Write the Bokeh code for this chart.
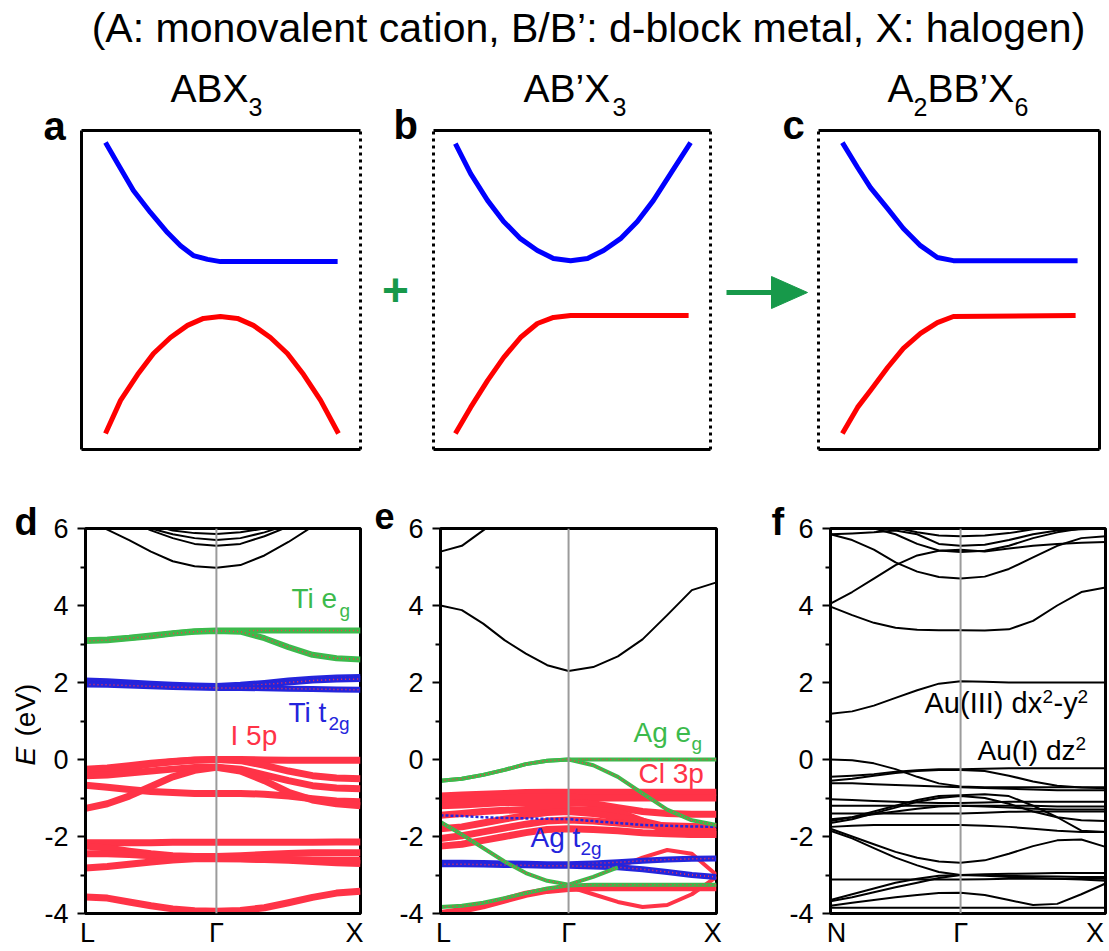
import numpy as np
from bokeh.plotting import figure
from bokeh.models import Range1d, Span, FixedTicker
from bokeh.layouts import column, row
from bokeh.core.properties import value
from bokeh.embed import file_html
from bokeh.resources import INLINE

nan = float("nan")
FONT = "Liberation Sans"

# ------------------------------------------------------------------ data
HEADER = "(A: monovalent cation, B/B\u2019: d-block metal, X: halogen)"

# schematic panels (arbitrary units, box = 0..100)
A_BLUE_X = [8.6, 12.9, 18.6, 24.7, 30.8, 35.5, 40.1, 45.2, 49.8, 91.8]
A_BLUE_Y = [96.2, 89.7, 81.2, 74.3, 68.0, 63.9, 60.8, 59.6, 58.9, 58.9]
A_RED_X = [8.6, 14.0, 20.1, 25.8, 31.9, 38.0, 43.7, 49.8, 55.9, 61.6, 67.7, 73.8, 79.6, 85.7, 92.1]
A_RED_Y = [5.0, 15.4, 23.5, 30.1, 35.1, 38.9, 41.1, 41.7, 41.1, 38.9, 35.1, 30.1, 23.5, 15.4, 5.0]

B_BLUE_X = [7.9, 13.4, 19.5, 25.3, 31.4, 37.5, 43.3, 49.5, 55.6, 61.4, 67.5, 73.6, 79.4, 85.6, 92.8]
B_BLUE_Y = [95.9, 86.5, 78.1, 71.5, 66.1, 62.4, 59.9, 59.2, 59.9, 62.4, 66.1, 71.5, 78.1, 86.5, 96.2]
B_RED_X = [7.9, 13.4, 19.5, 25.3, 31.4, 37.5, 43.3, 49.5, 92.1]
B_RED_Y = [5.0, 13.2, 21.6, 28.8, 35.1, 39.5, 41.4, 42.0, 42.0]

C_BLUE_X = [8.5, 13.9, 18.5, 24.6, 30.2, 36.3, 42.3, 48.0, 92.2]
C_BLUE_Y = [96.2, 88.4, 82.1, 75.5, 69.3, 63.9, 60.2, 59.2, 59.2]
C_RED_X = [8.5, 13.9, 18.5, 24.6, 30.2, 36.3, 42.3, 48.0, 91.5]
C_RED_Y = [5.0, 13.2, 18.5, 25.7, 31.7, 36.4, 39.8, 41.7, 42.0]

# band structures: 13 samples per band (7 on L-G, 7 on G-X, shared G)
Y_TICKS = [-4, -2, 0, 2, 4, 6]
Y_TICK_LABELS = ["-4", "-2", "0", "2", "4", "6"]
Y_MINOR = [-3, -1, 1, 3, 5]
G_D, G_E, G_F = 0.476, 0.464, 0.473
K_LABELS_D = ["L", "\u0393", "X"]
K_LABELS_E = ["L", "\u0393", "X"]
K_LABELS_F = ["N", "\u0393", "X"]

D_BLACK = [
    [6.3, 5.97, 5.7, 5.4, 5.15, 5.02, 4.98, 5.05, 5.3, 5.65, 6.05, 6.3, 6.5],
    [6.6, 6.4, 6.2, 5.95, 5.75, 5.6, 5.55, 5.6, 5.8, 6.05, 6.3, 6.5, 6.6],
    [6.7, 6.5, 6.25, 6.0, 5.85, 5.75, 5.7, 5.75, 5.9, 6.1, 6.3, 6.5, 6.6],
    [6.8, 6.6, 6.35, 6.1, 5.95, 5.88, 5.86, 5.9, 6.0, 6.2, 6.4, 6.6, 6.7],
]
D_GREEN = [
    [3.1, 3.12, 3.16, 3.22, 3.28, 3.33, 3.35, 3.35, 3.35, 3.35, 3.35, 3.35, 3.35],
    [3.08, 3.1, 3.15, 3.2, 3.27, 3.32, 3.34, 3.32, 3.15, 2.92, 2.72, 2.63, 2.6],
]
D_BLUE = [
    [2.05, 2.03, 2.0, 1.97, 1.94, 1.92, 1.91, 1.94, 1.99, 2.05, 2.1, 2.13, 2.14],
    [1.99, 1.98, 1.96, 1.93, 1.91, 1.89, 1.88, 1.9, 1.95, 2.0, 2.05, 2.08, 2.09],
    [1.95, 1.94, 1.92, 1.9, 1.88, 1.87, 1.86, 1.86, 1.85, 1.84, 1.83, 1.82, 1.81],
]
D_RED = [
    [-0.25, -0.22, -0.16, -0.1, -0.05, -0.01, 0.0, 0.0, -0.01, -0.02, -0.02, -0.02, -0.02],
    [-0.32, -0.28, -0.2, -0.12, -0.06, -0.02, 0.0, -0.03, -0.15, -0.3, -0.42, -0.48, -0.5],
    [-0.42, -0.4, -0.35, -0.3, -0.25, -0.21, -0.2, -0.25, -0.4, -0.55, -0.68, -0.74, -0.76],
    [-0.67, -0.72, -0.78, -0.83, -0.86, -0.88, -0.88, -0.88, -0.9, -0.95, -1.02, -1.08, -1.1],
    [-1.27, -1.15, -0.95, -0.7, -0.45, -0.28, -0.2, -0.3, -0.55, -0.85, -1.05, -1.15, -1.2],
    [-2.16, -2.16, -2.16, -2.16, -2.15, -2.15, -2.15, -2.15, -2.15, -2.15, -2.15, -2.14, -2.14],
    [-2.25, -2.3, -2.38, -2.45, -2.5, -2.52, -2.52, -2.5, -2.47, -2.44, -2.42, -2.42, -2.42],
    [-2.45, -2.45, -2.47, -2.5, -2.53, -2.56, -2.57, -2.58, -2.6, -2.62, -2.65, -2.68, -2.7],
    [-2.82, -2.78, -2.72, -2.66, -2.61, -2.58, -2.57, -2.58, -2.6, -2.6, -2.61, -2.62, -2.62],
    [-3.57, -3.6, -3.7, -3.8, -3.88, -3.93, -3.94, -3.92, -3.85, -3.72, -3.58, -3.47, -3.42],
]

E_BLACK = [
    [5.4, 5.55, 5.95, 6.35, nan, nan, nan, nan, nan, nan, nan, nan, nan],
    [4.0, 3.88, 3.53, 3.1, 2.75, 2.45, 2.3, 2.4, 2.68, 3.12, 3.75, 4.4, 4.6],
]
E_GREEN = [
    [-0.55, -0.5, -0.4, -0.27, -0.12, -0.03, 0.0, 0.0, 0.0, 0.0, 0.0, 0.0, 0.0],
    [-0.55, -0.5, -0.4, -0.27, -0.12, -0.03, 0.0, -0.15, -0.45, -0.88, -1.3, -1.58, -1.7],
    [-1.62, -1.95, -2.3, -2.65, -2.95, -3.15, -3.25, -3.05, -2.8, nan, nan, nan, nan],
    [-3.83, -3.8, -3.72, -3.6, -3.47, -3.35, -3.27, -3.25, -3.25, -3.25, -3.25, -3.25, -3.25],
]
E_RED = [
    [-0.95, -0.92, -0.9, -0.88, -0.86, -0.85, -0.85, -0.85, -0.85, -0.85, -0.85, -0.85, -0.85],
    [-1.05, -1.05, -1.02, -1.0, -0.98, -0.98, -0.98, -1.0, -1.0, -1.0, -1.0, -1.0, -1.0],
    [-1.2, -1.18, -1.15, -1.12, -1.12, -1.12, -1.12, -1.15, -1.25, -1.35, -1.4, -1.42, -1.42],
    [-1.45, -1.4, -1.35, -1.32, -1.3, -1.3, -1.3, -1.32, -1.36, -1.6, -1.85, -1.95, -1.95],
    [-1.8, -1.75, -1.65, -1.55, -1.45, -1.38, -1.35, -1.4, -1.5, -1.6, -1.75, -1.85, -1.9],
    [-2.05, -1.98, -1.88, -1.78, -1.68, -1.6, -1.57, -1.6, -1.65, -1.7, -1.72, -1.74, -1.75],
    [-2.25, -2.2, -2.1, -2.0, -1.9, -1.82, -1.8, -1.82, -1.85, -1.9, -1.93, -1.95, -1.95],
    [-4.0, -3.92, -3.8, -3.65, -3.5, -3.4, -3.35, -3.33, -3.33, -3.33, -3.33, -3.33, -3.33],
]
E_RED_THIN = [
    [nan, nan, nan, nan, nan, nan, -3.3, -3.5, -3.7, -3.83, -3.78, -3.5, -3.05],
    [nan, nan, nan, nan, nan, nan, nan, nan, -2.8, -2.55, -2.35, -2.45, -3.0],
]
E_BLUE = [
    [-2.68, -2.68, -2.69, -2.7, -2.71, -2.72, -2.72, -2.7, -2.67, -2.63, -2.6, -2.58, -2.57],
    [-2.72, -2.72, -2.73, -2.74, -2.75, -2.76, -2.76, -2.78, -2.8, -2.85, -2.92, -3.0, -3.05],
]
E_BLUE_THIN = [
    [-1.45, -1.47, -1.5, -1.52, -1.53, -1.54, -1.55, -1.6, -1.65, -1.7, -1.72, -1.74, -1.75],
]

F_BLACK = [
    [1.19, 1.25, 1.4, 1.6, 1.8, 1.97, 2.03, 2.02, 2.0, 2.0, 2.0, 2.0, 2.0],
    [3.97, 3.75, 3.55, 3.42, 3.37, 3.36, 3.36, 3.35, 3.38, 3.6, 4.0, 4.35, 4.47],
    [4.05, 4.35, 4.7, 5.05, 5.3, 5.42, 5.45, 5.4, 5.48, 5.55, 5.6, 5.63, 5.65],
    [5.85, 5.7, 5.45, 5.12, 4.88, 4.74, 4.7, 4.75, 4.95, 5.25, 5.55, 5.75, 5.8],
    [5.85, 5.87, 5.9, 5.95, 5.85, 5.6, 5.55, 5.58, 5.7, 5.85, 5.95, 5.98, 6.0],
    [6.1, 6.05, 6.0, 5.85, 5.6, 5.43, 5.39, 5.42, 5.55, 5.75, 5.9, 6.0, 6.05],
    [6.2, 6.15, 6.1, 6.02, 5.9, 5.82, 5.8, 5.82, 5.88, 5.98, 6.05, 6.1, 6.1],
    [0.0, -0.02, -0.1, -0.25, -0.45, -0.62, -0.7, -0.72, -0.72, -0.72, -0.72, -0.72, -0.72],
    [-0.45, -0.42, -0.38, -0.32, -0.28, -0.25, -0.25, -0.24, -0.23, -0.23, -0.23, -0.23, -0.23],
    [-0.55, -0.5, -0.42, -0.35, -0.3, -0.27, -0.27, -0.3, -0.42, -0.57, -0.68, -0.73, -0.75],
    [-0.62, -0.62, -0.64, -0.66, -0.68, -0.7, -0.72, -0.74, -0.76, -0.78, -0.8, -0.8, -0.8],
    [-1.6, -1.5, -1.35, -1.2, -1.05, -0.95, -0.93, -0.9, -0.95, -1.2, -1.5, -1.85, -1.88],
    [-1.65, -1.55, -1.4, -1.25, -1.1, -1.0, -0.95, -1.0, -1.15, -1.35, -1.5, -1.58, -1.6],
    [-1.03, -1.05, -1.08, -1.1, -1.12, -1.13, -1.13, -1.12, -1.1, -1.1, -1.1, -1.1, -1.1],
    [-1.2, -1.2, -1.2, -1.2, -1.2, -1.2, -1.2, -1.2, -1.2, -1.2, -1.22, -1.22, -1.22],
    [-1.4, -1.4, -1.4, -1.4, -1.4, -1.4, -1.4, -1.38, -1.36, -1.35, -1.35, -1.35, -1.35],
    [-1.55, -1.5, -1.42, -1.35, -1.28, -1.22, -1.2, -1.22, -1.25, -1.28, -1.3, -1.3, -1.3],
    [-1.75, -1.72, -1.7, -1.7, -1.7, -1.7, -1.7, -1.72, -1.75, -1.8, -1.85, -1.88, -1.88],
    [-1.8, -2.0, -2.2, -2.4, -2.55, -2.65, -2.68, -2.62, -2.45, -2.25, -2.1, -2.08, -2.27],
    [-1.85, -2.05, -2.3, -2.55, -2.75, -2.92, -3.0, -2.98, -2.97, -2.96, -2.95, -2.95, -2.95],
    [-3.12, -3.12, -3.12, -3.12, -3.12, -3.12, -3.12, -3.11, -3.1, -3.1, -3.1, -3.1, -3.1],
    [-3.65, -3.5, -3.35, -3.2, -3.1, -3.02, -3.0, -3.0, -3.02, -3.03, -3.04, -3.05, -3.05],
    [-3.68, -3.58, -3.45, -3.32, -3.2, -3.08, -3.0, -3.02, -3.05, -3.08, -3.1, -3.12, -3.15],
    [-3.8, -3.72, -3.65, -3.58, -3.52, -3.47, -3.46, -3.52, -3.65, -3.78, -3.75, -3.5, -3.22],
    [-3.85, -3.85, -3.85, -3.85, -3.85, -3.85, -3.85, -3.85, -3.85, -3.85, -3.85, -3.85, -3.85],
]

# ------------------------------------------------------------------ style / layout (screen px)
RED = "#ff3347"
GREEN = "#3cba4c"
BLUE = "#2424dc"
SCH_RED = "#ff0000"
SCH_BLUE = "#0000ff"
ARROW_GREEN = "#17994a"
K_BASE = 0.36                      # alphabetic-baseline correction (fraction of font size)

HEAD_H = 58
TOP_Y0, TOP_Y1 = 58, 470           # top row canvas
BOX_T, BOX_B = 130, 449            # schematic boxes
BOT_Y0, BOT_Y1 = 470, 951          # bottom row canvas
FR_T, FR_B = 528, 913              # band frames
# label positions of the k-point names along each frame (as drawn in the original)
KPOS_D = [0.007, G_D, 0.978]
KPOS_E = [0.011, G_E, 0.986]
KPOS_F = [0.022, G_F, 0.962]


def no_align(p):
    try:
        p.frame_align = False
    except Exception:
        pass
    return p


def kpath(g):
    return np.concatenate([np.linspace(0, g, 7), np.linspace(g, 1, 7)[1:]])


def put(p, conv, sx, sy, text, size, color="black", style="normal",
        align="left", baseline="alphabetic", angle=0.0):
    if baseline == "alphabetic":
        sy = sy - K_BASE * size
    x, y = conv(sx, sy)
    p.text(x=[x], y=[y], text=[text], text_font=value(FONT),
           text_font_size=value(f"{size}px"), text_color=color,
           text_font_style=style, text_align=align,
           text_baseline=baseline, angle=angle)


def canvas_fig(w, h, xr, yr):
    p = figure(frame_width=w, frame_height=h, min_border=0,
               x_range=Range1d(*xr), y_range=Range1d(*yr),
               x_axis_location=None, y_axis_location=None,
               toolbar_location=None, output_backend="svg",
               outline_line_color=None)
    p.grid.visible = False
    return no_align(p)


def screen_conv(sx, sy):
    return sx, sy


# ------------------------------------------------------------------ header
header = canvas_fig(1109, HEAD_H, (0, 1109), (HEAD_H, 0))
put(header, screen_conv, 588, 42, HEADER, 41, align="center")


# ------------------------------------------------------------------ schematic panels
def schematic(cl, cr, bl, br, bxs, bys, rxs, rys, dotted):
    bw = (br - bl) / 100.0
    bh = (BOX_B - BOX_T) / 100.0
    xr = ((cl - bl) / bw, (cr - bl) / bw)
    yr = ((BOX_B - TOP_Y1) / bh, (BOX_B - TOP_Y0) / bh)
    p = canvas_fig(cr - cl, TOP_Y1 - TOP_Y0, xr, yr)

    def conv(sx, sy):
        return (sx - bl) / bw, (BOX_B - sy) / bh

    p.line(bxs, bys, line_color=SCH_BLUE, line_width=5, line_join="round")
    p.line(rxs, rys, line_color=SCH_RED, line_width=5, line_join="round")
    sides = {"left": (0, 0, 0, 100), "right": (100, 0, 100, 100),
             "bottom": (0, 0, 100, 0), "top": (0, 100, 100, 100)}
    for name, (x0, y0, x1, y1) in sides.items():
        p.segment(x0=[x0], y0=[y0], x1=[x1], y1=[y1], line_color="black",
                  line_width=3, line_cap="butt",
                  line_dash="3 4" if name in dotted else "solid")
    return p, conv


pa, ca = schematic(0, 370, 81, 360, A_BLUE_X, A_BLUE_Y, A_RED_X, A_RED_Y, {"right"})
put(pa, ca, 43, 140, "a", 40, style="bold")
put(pa, ca, 170, 102, "ABX", 39)
put(pa, ca, 248, 115, "3", 25)

pb, cb = schematic(370, 720, 433, 710, B_BLUE_X, B_BLUE_Y, B_RED_X, B_RED_Y, {"left", "right"})
put(pb, cb, 393, 139, "b", 40, style="bold")
put(pb, cb, 523, 102, "AB\u2019X", 39)
put(pb, cb, 612, 115, "3", 25)
put(pb, cb, 395, 289, "+", 46, color=ARROW_GREEN, style="bold",
    align="center", baseline="middle")

pc, cc = schematic(720, 1109, 818, 1099, C_BLUE_X, C_BLUE_Y, C_RED_X, C_RED_Y, {"left"})
put(pc, cc, 782, 139, "c", 40, style="bold")
put(pc, cc, 887, 102, "A", 39)
put(pc, cc, 913, 115, "2", 25)
put(pc, cc, 927, 102, "BB\u2019X", 39)
put(pc, cc, 1014, 115, "6", 25)
# arrow between b and c
ax0, ay0 = cc(726, 292)
ax1, _ = cc(776, 292)
tipx, tipy = cc(807, 292)
basex, basey_top = cc(771, 276)
_, basey_bot = cc(771, 308)
pc.segment(x0=[ax0], y0=[ay0], x1=[ax1], y1=[ay0], line_color=ARROW_GREEN,
           line_width=5, line_cap="butt")
pc.patch(x=[tipx, basex, basex], y=[tipy, basey_top, basey_bot],
         fill_color=ARROW_GREEN, line_color=ARROW_GREEN, line_width=1)


# ------------------------------------------------------------------ band panels
def band_panel(cl, cr, fl, fr, gamma, kpos, klabels):
    p = figure(frame_width=fr - fl, frame_height=FR_B - FR_T,
               min_border_left=fl - cl, min_border_right=cr - fr,
               min_border_top=FR_T - BOT_Y0, min_border_bottom=BOT_Y1 - FR_B,
               x_range=Range1d(0, 1), y_range=Range1d(-4, 6),
               toolbar_location=None, output_backend="svg")
    no_align(p)
    p.grid.visible = False
    p.outline_line_color = "black"
    p.outline_line_width = 3
    ya = p.yaxis[0]
    ya.ticker = FixedTicker(ticks=Y_TICKS, minor_ticks=Y_MINOR)
    ya.major_label_overrides = {t: s for t, s in zip(Y_TICKS, Y_TICK_LABELS)}
    ya.major_label_text_font = FONT
    ya.major_label_text_font_size = "27px"
    ya.major_label_text_color = "black"
    ya.major_tick_out = 8
    ya.major_tick_in = 0
    ya.minor_tick_out = 5
    ya.minor_tick_in = 0
    ya.major_tick_line_width = 2
    ya.minor_tick_line_width = 2
    ya.axis_line_width = 3
    ya.major_label_standoff = 9
    xa = p.xaxis[0]
    xa.ticker = FixedTicker(ticks=kpos)
    xa.major_label_overrides = {t: s for t, s in zip(kpos, klabels)}
    xa.major_label_text_font = FONT
    xa.major_label_text_font_size = "27px"
    xa.major_label_text_color = "black"
    xa.major_tick_line_color = None
    xa.minor_tick_line_color = None
    xa.major_tick_out = 0
    xa.major_tick_in = 0
    xa.axis_line_width = 3
    xa.major_label_standoff = 4
    p.add_layout(Span(location=gamma, dimension="height",
                      line_color="#9b9b9b", line_width=2))

    def conv(sx, sy):
        return (sx - fl) / (fr - fl), 6 - (sy - FR_T) / ((FR_B - FR_T) / 10.0)

    return p, conv


def draw(p, gamma, bands, color, width, dots=False, dash="solid"):
    k = kpath(gamma)
    for b in bands:
        y = np.array(b, dtype=float)
        p.line(k, y, line_color=color, line_width=width, line_join="round",
               line_dash=dash)
        if dots:
            p.line(k, y, line_color=RED, line_width=1.5, line_dash="1 3")


def strip(cl, cr):
    return canvas_fig(cr - cl, BOT_Y1 - BOT_Y0, (cl, cr), (BOT_Y1, BOT_Y0))


# letters / axis title strips (screen-unit figures)
sd = strip(0, 41)
put(sd, screen_conv, 14, 535, "d", 38, style="bold")
put(sd, screen_conv, 25, 765, "E", 28, style="italic", baseline="middle",
    angle=np.pi / 2)
put(sd, screen_conv, 25, 736, "(eV)", 28, baseline="middle", angle=np.pi / 2)

se = strip(368, 393)
put(se, screen_conv, 371, 528, "e", 36, style="bold")

sf = strip(760, 781)
put(sf, screen_conv, 766, 535, "f", 38, style="bold")

# panel d
pd_, cd = band_panel(41, 368, 82, 357, G_D, KPOS_D, K_LABELS_D)
draw(pd_, G_D, D_RED, RED, 7)
draw(pd_, G_D, D_BLUE, BLUE, 6, dots=True)
draw(pd_, G_D, D_GREEN, GREEN, 6, dots=True)
draw(pd_, G_D, D_BLACK, "black", 2)
put(pd_, cd, 288, 608, "Ti e", 28, color=GREEN)
put(pd_, cd, 336, 617, "g", 19, color=GREEN)
put(pd_, cd, 285, 722, "Ti t", 28, color=BLUE)
put(pd_, cd, 325, 730, "2g", 19, color=BLUE)
put(pd_, cd, 227, 745, "I 5p", 28, color=RED)

# panel e
pe, ce = band_panel(393, 760, 435, 711, G_E, KPOS_E, K_LABELS_E)
draw(pe, G_E, E_RED, RED, 7)
draw(pe, G_E, E_RED_THIN, RED, 4)
draw(pe, G_E, E_BLUE, BLUE, 6, dots=True)
draw(pe, G_E, E_BLUE_THIN, BLUE, 2.5, dash="3 2")
draw(pe, G_E, E_GREEN, GREEN, 4, dots=True)
draw(pe, G_E, E_BLACK, "black", 2)
put(pe, ce, 628, 742, "Ag e", 28, color=GREEN)
put(pe, ce, 686, 750, "g", 19, color=GREEN)
put(pe, ce, 633, 783, "Cl 3p", 28, color=RED)
put(pe, ce, 525, 847, "Ag t", 28, color=BLUE)
put(pe, ce, 575, 855, "2g", 19, color=BLUE)

# panel f
pf, cf = band_panel(781, 1109, 823, 1098, G_F, KPOS_F, K_LABELS_F)
draw(pf, G_F, F_BLACK, "black", 2)
put(pf, cf, 917, 713, "Au(III) dx", 29)
put(pf, cf, 1035, 703, "2", 19)
put(pf, cf, 1046, 713, "-y", 29)
put(pf, cf, 1070, 703, "2", 19)
put(pf, cf, 970, 760, "Au(I) dz", 28)
put(pf, cf, 1068, 750, "2", 19)

layout = column(header,
                row(pa, pb, pc, spacing=0),
                row(sd, pd_, se, pe, sf, pf, spacing=0),
                spacing=0)

open("out.html", "w").write(file_html(layout, INLINE))
